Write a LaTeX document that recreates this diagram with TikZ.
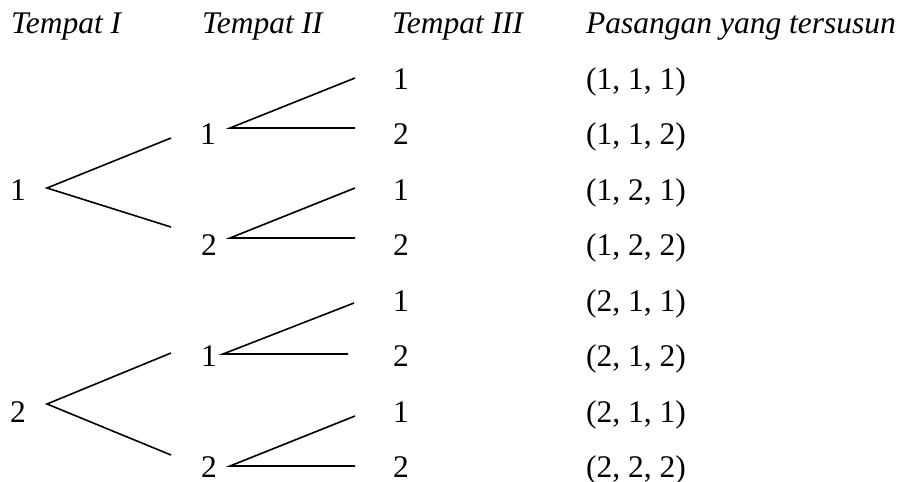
\documentclass[tikz,border=0pt]{standalone}
\usepackage{fontspec}
\setmainfont{Liberation Serif}
\begin{document}
\begin{tikzpicture}[x=1pt,y=-1pt,
  lbl/.style={anchor=base west,inner sep=0pt,font=\fontsize{31.5}{36}\selectfont},
  hdr/.style={lbl,font=\fontsize{31.5}{36}\selectfont\itshape},
  branch/.style={line width=1.6pt,line cap=butt}]
\useasboundingbox (0,0) rectangle (903,482);
% headers
\node[hdr] (h1) at (11,33) {Tempat I};
\node[hdr] (h2) at (202,33) {Tempat II};
\node[hdr] (h3) at (392,33) {Tempat III};
\node[hdr] (h4) at (586,33) {Pasangan yang tersusun};
% Tempat I
\node[lbl] (a1) at (10,200) {1};
\node[lbl] (a2) at (10,422) {2};
% Tempat II
\node[lbl] (b1) at (200,144.5) {1};
\node[lbl] (b2) at (201,255.5) {2};
\node[lbl] (b3) at (201,366.5) {1};
\node[lbl] (b4) at (201,477.5) {2};
% Tempat III and pairs
\foreach \i/\d/\p in {1/1/{(1, 1, 1)},2/2/{(1, 1, 2)},3/1/{(1, 2, 1)},4/2/{(1, 2, 2)},
                      5/1/{(2, 1, 1)},6/2/{(2, 1, 2)},7/1/{(2, 1, 1)},8/2/{(2, 2, 2)}}{
  \node[lbl] (c\i) at (393,{89+55.5*(\i-1)}) {\d};
  \node[lbl] (p\i) at (586,{89+55.5*(\i-1)}) {\p};
}
% junction coordinates
\coordinate (va1) at (47,188);
\coordinate (ta1) at (171,138);
\coordinate (tb1) at (171,227);
\coordinate (va2) at (47,404);
\coordinate (ta2) at (171,353);
\coordinate (tb2) at (171,455);
\coordinate (s1) at (230,128);  \coordinate (e1) at (355,78);  \coordinate (f1) at (355,128);
\coordinate (s2) at (230,238);  \coordinate (e2) at (355,188); \coordinate (f2) at (355,238);
\coordinate (s3) at (223,354);  \coordinate (e3) at (354,303); \coordinate (f3) at (348,354);
\coordinate (s4) at (230,466);  \coordinate (e4) at (355,416); \coordinate (f4) at (355,466);
% branches
\draw[branch] (ta1) -- (va1) -- (tb1);
\draw[branch] (ta2) -- (va2) -- (tb2);
\draw[branch] (e1) -- (s1) -- (f1);
\draw[branch] (e2) -- (s2) -- (f2);
\draw[branch] (e3) -- (s3) -- (f3);
\draw[branch] (e4) -- (s4) -- (f4);
\end{tikzpicture}
\end{document}
